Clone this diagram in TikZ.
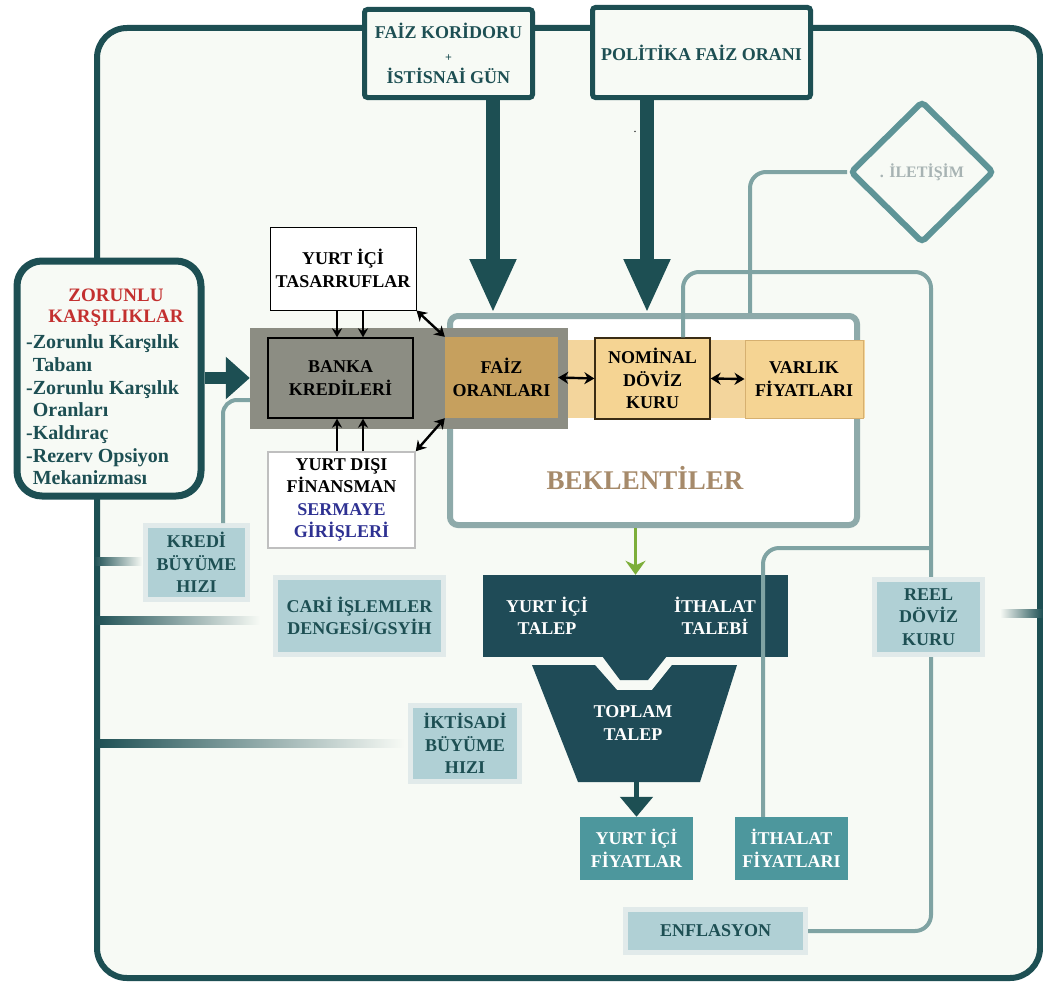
\documentclass[tikz,border=0pt]{standalone}
\usepackage{fontspec}
\setmainfont{Liberation Serif}
\usetikzlibrary{arrows.meta,shapes.geometric}
\definecolor{derin}{HTML}{1D4F53}
\definecolor{soluk}{HTML}{7FA3A3}
\definecolor{bekkenar}{HTML}{8EAAAA}
\definecolor{zemin}{HTML}{F7FAF5}
\definecolor{etiketmavi}{HTML}{B0D0D5}
\definecolor{etiketkenar}{HTML}{E1EAEA}
\definecolor{fiyatrenk}{HTML}{4D979D}
\definecolor{talepkoyu}{HTML}{1F4B57}
\definecolor{kum}{HTML}{F5D493}
\definecolor{kusakrenk}{HTML}{F3D59C}
\definecolor{kumkoyu}{HTML}{C6A05E}
\definecolor{kumkenar}{HTML}{D6B070}
\definecolor{kahve}{HTML}{3A2C14}
\definecolor{gri}{HTML}{8C8D83}
\definecolor{kirmizi}{HTML}{C3302F}
\definecolor{lacivert}{HTML}{2E3192}
\definecolor{bej}{HTML}{A68A6A}
\definecolor{yesil}{HTML}{7DAE3A}
\definecolor{iletgri}{HTML}{A7B3B3}
\definecolor{elmas}{HTML}{5E9497}
\begin{document}
\begin{tikzpicture}[x=1pt, y=-1pt,
	font=\bfseries\fontsize{18}{22.5}\selectfont,
	kutu/.style={draw=derin, line width=5pt, fill=zemin, rounded corners=3pt, inner sep=0pt, align=center, text=derin},
	etiket/.style={fill=etiketmavi, draw=etiketkenar, line width=5pt, inner sep=0pt, align=center, text=derin},
	fiyat/.style={fill=fiyatrenk, inner sep=0pt, align=center, text=white, minimum width=113pt, minimum height=63pt},
	ince/.style={draw=soluk, line width=4pt},
	kalin/.style={draw=derin, line width=14pt, -{Triangle[length=54pt,width=43pt]}},
	siyah/.style={draw=black, line width=1.8pt, -{Stealth[length=9pt,width=10pt]}},
	cift/.style={draw=black, line width=2.4pt, {Stealth[length=10pt,width=12pt]}-{Stealth[length=10pt,width=12pt]}},
	yazi/.style={inner sep=0pt, align=center}]
	\path[use as bounding box, fill=white] (0,0) rectangle (1043,982);
	\node[draw=derin, line width=6pt, fill=zemin, rounded corners=30pt, minimum width=943pt, minimum height=950pt, inner sep=0pt] (cerceve) at (568.5,503) {};

	\shade[left color=derin, right color=zemin] (cerceve.west |- 0,562.5) ++(0,-5) rectangle ++(48,8);
	\shade[left color=derin, right color=zemin] (cerceve.west |- 0,616) rectangle ++(166,8);
	\shade[left color=derin, right color=zemin] (cerceve.west |- 0,743.5) ++(0,-4) rectangle ++(310,8);
	\shade[left color=zemin, right color=derin] (cerceve.east |- 0,617) ++(0,-8) rectangle ++(-43,8);

	\node[kutu, minimum width=168pt, minimum height=88pt] (fk) at (448.5,53.5) {FAİZ KORİDORU\\{\fontsize{12}{12}\selectfont +}\\İSTİSNAİ GÜN};
	\node[kutu, minimum width=218pt, minimum height=90pt] (pfo) at (701.5,52.5) {POLİTİKA FAİZ ORANI};
	\node[yazi, font=\fontsize{12}{12}\selectfont] (nokta) at (635,132) {.};
	\node[diamond, aspect=1, draw=elmas, line width=6pt, fill=zemin, rounded corners=4pt, minimum width=144pt, minimum height=142pt, inner sep=0pt, text=iletgri, font=\bfseries\fontsize{16}{18}\selectfont] (ilet) at (922,172) {. İLETİŞİM};

	\node[draw=bekkenar, line width=6pt, fill=white, rounded corners=8pt, minimum width=407pt, minimum height=209pt, inner sep=0pt] (bek) at (653.5,420.5) {};
	\node[yazi, text=bej, font=\bfseries\fontsize{27}{30}\selectfont] (bekyazi) at (645,478) {BEKLENTİLER};
	\node[fill=kusakrenk, minimum width=420pt, minimum height=78pt, inner sep=0pt] (kusak) at (655,379) {};

	\coordinate (fkok) at ([xshift=44.5pt]fk.south);
	\coordinate (pfook) at ([xshift=-54.5pt]pfo.south);
	\draw[kalin] (fkok) -- (fkok |- bek.north);
	\draw[kalin] (pfook) -- (pfook |- bek.north);

	\node[fill=gri, minimum width=318pt, minimum height=101pt, inner sep=0pt] (bankazemin) at (409,378) {};
	\node[draw=black, line width=1.3pt, minimum width=145pt, minimum height=80pt, yazi] (banka) at (340.5,378) {BANKA\\KREDİLERİ};
	\node[fill=kumkoyu, minimum width=113pt, minimum height=81pt, yazi] (faiz) at (501.5,377.5) {FAİZ\\ORANLARI};
	\node[draw=kahve, line width=1.3pt, fill=kum, minimum width=115pt, minimum height=81pt, yazi] (nominal) at (652.5,378.5) {NOMİNAL\\DÖVİZ\\KURU};
	\node[draw=kumkenar, line width=1pt, fill=kum, minimum width=118pt, minimum height=78pt, yazi] (varlik) at (804,379) {VARLIK\\FİYATLARI};
	\draw[cift] (faiz.east) -- (nominal.west);
	\draw[cift] (nominal.east) -- (varlik.west);

	\node[draw=black, line width=1pt, fill=white, minimum width=146pt, minimum height=83pt, yazi] (tasarruf) at (343,268.5) {YURT İÇİ\\TASARRUFLAR};
	\node[draw=black!25, line width=1.5pt, fill=white, minimum width=147pt, minimum height=96pt, yazi] (yurtdisi) at (341.5,500) {YURT DIŞI\\FİNANSMAN\\\textcolor{lacivert}{SERMAYE}\\\textcolor{lacivert}{GİRİŞLERİ}};
	\draw[siyah] ([xshift=-6pt]tasarruf.south) -- ([xshift=-3.5pt]banka.north);
	\draw[siyah] ([xshift=20pt]tasarruf.south) -- ([xshift=22.5pt]banka.north);
	\draw[siyah] ([xshift=-4.5pt]yurtdisi.north) -- ([xshift=-3.5pt]banka.south);
	\draw[siyah] ([xshift=21.5pt]yurtdisi.north) -- ([xshift=22.5pt]banka.south);
	\draw[cift] (tasarruf.south east) -- (faiz.north west);
	\draw[cift] (yurtdisi.north east) -- (faiz.south west);

	\node[draw=derin, line width=7pt, fill=zemin, rounded corners=25pt, minimum width=184pt, minimum height=235pt, inner sep=0pt] (zorunlu) at (109,378.5) {};
	\node[yazi, text=kirmizi, font=\bfseries\fontsize{19}{21}\selectfont] (zbaslik) at (116,307.5) {ZORUNLU\\KARŞILIKLAR};
	\node[yazi, text=derin, align=left, anchor=west, font=\bfseries\fontsize{20}{22.7}\selectfont] (zliste) at (26,410) {-Zorunlu Karşılık\\\phantom{-}Tabanı\\-Zorunlu Karşılık\\\phantom{-}Oranları\\-Kaldıraç\\-Rezerv Opsiyon\\\phantom{-}Mekanizması};
	\draw[derin, line width=12pt, -{Triangle[length=24pt,width=41pt]}] (zorunlu.east |- bankazemin.west) -- (bankazemin.west);

	\node[fill=talepkoyu, minimum width=305pt, minimum height=82pt, inner sep=0pt] (talep) at (635.5,616) {};
	\fill[talepkoyu] (602,656) -- (667,656) -- (648,680) -- (620,680) -- cycle;
	\node[yazi, text=white] (yitalep) at (547,616) {YURT İÇİ\\TALEP};
	\node[yazi, text=white] (ithtalep) at (715,616) {İTHALAT\\TALEBİ};
	\fill[talepkoyu] (532,665) -- (595,665) -- (617,690) -- (652,690) -- (672,665) -- (737,665) -- (700,782) -- (578,782) -- cycle;
	\node[yazi, text=white] (toplam) at (633,723) {TOPLAM\\TALEP};
	\draw[yesil, line width=3pt, -{Stealth[length=14pt,width=20pt]}] (talep.north |- bek.south) -- (talep.north);

	\node[fiyat] (yif) at (636.5,848.5) {YURT İÇİ\\FİYATLAR};
	\node[fiyat] (ithf) at (791.5,848.5) {İTHALAT\\FİYATLARI};
	\coordinate (toplamalt) at (636.5,782);
	\draw[derin, line width=5pt, -{Triangle[length=20pt,width=32pt]}] (toplamalt) -- (yif.north);

	\node[etiket, minimum width=180pt, minimum height=43pt] (enfl) at (715.5,931) {ENFLASYON};
	\node[etiket, minimum width=102pt, minimum height=74pt] (kredi) at (196.5,562.5) {KREDİ\\BÜYÜME\\HIZI};
	\node[etiket, minimum width=168pt, minimum height=77pt] (cari) at (359.5,616) {CARİ İŞLEMLER\\DENGESİ/GSYİH};
	\node[etiket, minimum width=109pt, minimum height=76pt] (iktisadi) at (465,743.5) {İKTİSADİ\\BÜYÜME\\HIZI};

	\coordinate (iletinis) at ([xshift=96.5pt]bek.north);
	\coordinate (sagust) at (931,272);
	\coordinate (sagkol) at (931,548);
	\coordinate (sagalt) at (931,931);
	\draw[ince, rounded corners=16pt] (ilet.west) -| (iletinis);
	\draw[ince, rounded corners=16pt] ([xshift=30.5pt]nominal.north) |- (sagust) -- (sagalt) -- (enfl.east);
	\draw[ince, rounded corners=16pt] ([xshift=-28.5pt]ithf.north) |- (sagkol);
	\draw[ince, rounded corners=14pt] ([xshift=26.5pt]kredi.north) |- ([yshift=-22pt]bankazemin.west);

	\node[etiket, minimum width=108pt, minimum height=75pt] (reel) at (928.5,617) {REEL\\DÖVİZ\\KURU};
\end{tikzpicture}
\end{document}
